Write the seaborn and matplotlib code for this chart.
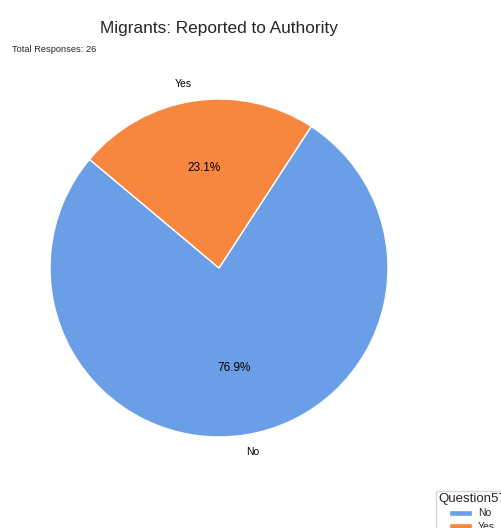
import matplotlib
matplotlib.use("Agg")
import matplotlib.pyplot as plt
import seaborn as sns

# Survey answers for question 57
categories = ["No", "Yes"]
counts = [20, 6]
colors = ["#6a9fe8", "#f7873f"]
title = "Migrants: Reported to Authority"
legend_title = "Question57"

sns.set_theme(style="white")
plt.rcParams["font.family"] = ["Liberation Sans", "DejaVu Sans"]

W, H = 501, 528
fig = plt.figure(figsize=(W / 100, H / 100), dpi=100)

cx, cy, r = 219, 268, 169
side = 2.5 * r
ax = fig.add_axes([(cx - side / 2) / W, (H - cy - side / 2) / H, side / W, side / H])

wedges, texts, autotexts = ax.pie(
    counts,
    labels=categories,
    colors=colors,
    autopct="%1.1f%%",
    startangle=140,
    wedgeprops=dict(edgecolor="white", linewidth=1),
    textprops=dict(fontsize=7.5, color="black"),
)
for t in autotexts:
    t.set_fontsize(8.5)
ax.set_aspect("equal")
ax.set_title(title, fontsize=12.4, pad=17)

fig.text(12 / W, 1 - 50 / H, f"Total Responses: {sum(counts)}", fontsize=6.7,
         va="center", ha="left")

fig.legend(wedges, categories, title=legend_title, loc="upper left",
           bbox_to_anchor=(431 / W, 1 - 486 / H), fontsize=7.5, title_fontsize=9.5,
           frameon=True, handlelength=2.2, handleheight=0.55,
           borderpad=0.2, labelspacing=0.3, handletextpad=0.6)

fig.savefig("out.png", dpi=100)
